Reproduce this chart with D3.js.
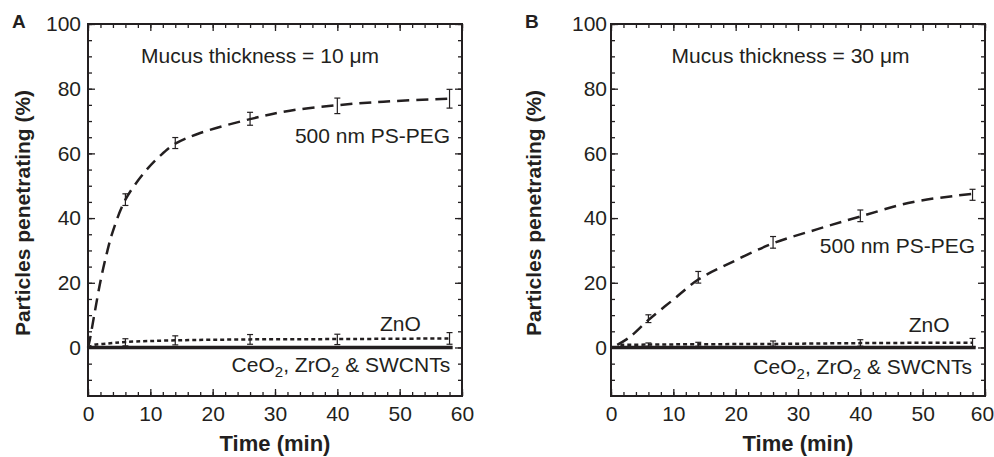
<!DOCTYPE html>
<html>
<head>
<meta charset="utf-8">
<script src="https://cdn.jsdelivr.net/npm/d3@7"></script>
<style>
  body { margin: 0; background: #fff; }
  svg { font-family: "Liberation Sans", Arial, sans-serif; }
</style>
</head>
<body>
<div id="chart"></div>
<script>
// sampling times (min)
var times = [6, 14, 26, 40, 58];

// panel A: mucus 10 um
var pegA = [45.7, 63.2, 70.7, 74.7, 76.9];
var pegErrA = [1.8, 1.7, 2.0, 2.4, 2.9];
var pegCurveA = [[0, 0], [0.3, 2.5], [1, 10], [2, 20.5], [3, 29], [4, 36], [6, 45.7], [9, 54],
  [11.6, 59.3], [14, 63.0], [18, 66.3], [26, 70.6], [32.4, 73.2], [40, 74.9], [47.4, 76], [58, 76.9]];
var znoA = [1.6, 2.2, 2.5, 2.5, 2.8];
var znoErrA = [1.1, 1.4, 1.5, 1.6, 1.8];
var znoCurveA = [[0, 0], [1, 0.8], [3, 1.2], [6, 1.7], [14, 2.2], [26, 2.5], [40, 2.6], [58, 2.8]];
var otherCurveA = [[0, 0], [58.5, 0]];

// panel B: mucus 30 um
var pegB = [8.9, 21.7, 32.5, 40.7, 47.2];
var pegErrB = [1.2, 1.8, 1.8, 1.8, 1.7];
var pegCurveB = [[1, 0.8], [3, 3.2], [6, 8.5], [10, 14.8], [14, 21], [19, 26], [26, 32.2],
  [33, 36.5], [40, 40.5], [48.5, 45], [58, 47.5]];
var znoB = [0.9, 1.0, 1.2, 1.4, 1.5];
var znoErrB = [0.5, 0.6, 0.8, 1.0, 1.3];
var znoCurveB = [[1.5, 0.8], [6, 0.9], [14, 1.0], [26, 1.1], [40, 1.35], [58, 1.5]];
var otherCurveB = [[0, 0], [58.5, 0]];

var xTicks = [0, 10, 20, 30, 40, 50, 60];
var yTicks = [0, 20, 40, 60, 80, 100];

var panels = [
  { letter: "A", left: 88, right: 462, gap: 7, letterX: 12, titleX: 30,
    peg: pegA, pegErr: pegErrA, pegCurve: pegCurveA,
    zno: znoA, znoErr: znoErrA, znoCurve: znoCurveA, other: otherCurveA,
    notes: [
      { t: 27.6, v: 88, anchor: "middle", text: "Mucus thickness = 10 \u03bcm" },
      { t: 58.1, v: 63.3, anchor: "end", text: "500 nm PS-PEG" },
      { t: 53.4, v: 5.0, anchor: "end", text: "ZnO" },
      { t: 58.1, v: -7.7, anchor: "end", text: "sub" }
    ] },
  { letter: "B", left: 611, right: 985, gap: 4, letterX: 525, titleX: 541,
    peg: pegB, pegErr: pegErrB, pegCurve: pegCurveB,
    zno: znoB, znoErr: znoErrB, znoCurve: znoCurveB, other: otherCurveB,
    notes: [
      { t: 28.8, v: 88, anchor: "middle", text: "Mucus thickness = 30 \u03bcm" },
      { t: 58.4, v: 29.3, anchor: "end", text: "500 nm PS-PEG" },
      { t: 54.3, v: 4.9, anchor: "end", text: "ZnO" },
      { t: 57.9, v: -8.3, anchor: "end", text: "sub" }
    ] }
];

var ink = "#231f20";
var plotTop = 24, plotBottom = 396;

var svg = d3.select("#chart").append("svg")
  .attr("width", 994)
  .attr("height", 457);

var y = d3.scaleLinear().domain([-15, 100]).range([plotBottom, plotTop]);

panels.forEach(function(p) {
  var x = d3.scaleLinear().domain([0, 60]).range([p.left, p.right]);
  var g = svg.append("g");

  // minor ticks all around
  var minorX = d3.range(0, 61, 2);
  var minorY = d3.range(-10, 101, 5);
  g.append("g")
    .attr("transform", "translate(0," + plotBottom + ")")
    .call(d3.axisBottom(x).tickValues(minorX).tickSize(-4).tickFormat(""));
  g.append("g")
    .attr("transform", "translate(0," + plotTop + ")")
    .call(d3.axisTop(x).tickValues(minorX).tickSize(-4).tickFormat(""));
  g.append("g")
    .attr("transform", "translate(" + p.left + ",0)")
    .call(d3.axisLeft(y).tickValues(minorY).tickSize(-4).tickFormat(""));
  g.append("g")
    .attr("transform", "translate(" + p.right + ",0)")
    .call(d3.axisRight(y).tickValues(minorY).tickSize(-4).tickFormat(""));

  // major ticks with labels
  var xa = g.append("g")
    .attr("class", "xaxis")
    .attr("transform", "translate(0," + plotBottom + ")")
    .call(d3.axisBottom(x).tickValues(xTicks).tickSizeInner(-7).tickSizeOuter(0).tickPadding(10));
  g.append("g")
    .attr("transform", "translate(0," + plotTop + ")")
    .call(d3.axisTop(x).tickValues(xTicks).tickSizeInner(-7).tickSizeOuter(0).tickFormat(""));
  g.append("g")
    .attr("class", "yaxis")
    .attr("transform", "translate(" + p.left + ",0)")
    .call(d3.axisLeft(y).tickValues(yTicks).tickSizeInner(-7).tickSizeOuter(0).tickPadding(p.gap));
  g.append("g")
    .attr("transform", "translate(" + p.right + ",0)")
    .call(d3.axisRight(y).tickValues(yTicks).tickSizeInner(-7).tickSizeOuter(0).tickFormat(""));

  g.selectAll(".domain").remove();
  g.selectAll(".tick line").attr("stroke", ink).attr("stroke-width", 1.3);
  g.selectAll(".tick text")
    .attr("fill", ink)
    .style("font-size", "21px")
    .style("font-family", "Liberation Sans, Arial, sans-serif");
  g.selectAll(".xaxis .tick text").attr("dy", "0.72em");
  // keep the last label of the right panel inside the page
  if (p.right > 900) {
    xa.selectAll(".tick text").filter(function(d) { return d === 60; }).attr("x", -3);
  }

  // frame
  g.append("rect")
    .attr("x", p.left).attr("y", plotTop)
    .attr("width", p.right - p.left).attr("height", plotBottom - plotTop)
    .attr("fill", "none")
    .attr("stroke", ink)
    .attr("stroke-width", 2);

  var line = d3.line()
    .x(function(d) { return x(d[0]); })
    .y(function(d) { return y(d[1]); })
    .curve(d3.curveCatmullRom.alpha(0.5));

  // CeO2, ZrO2 & SWCNTs: solid at zero
  g.append("path")
    .attr("d", line(p.other))
    .attr("fill", "none")
    .attr("stroke", ink)
    .attr("stroke-width", 3.5);

  // ZnO dotted
  g.append("path")
    .attr("d", line(p.znoCurve))
    .attr("fill", "none")
    .attr("stroke", ink)
    .attr("stroke-width", 2.5)
    .attr("stroke-dasharray", "4,3");

  // PS-PEG dashed
  g.append("path")
    .attr("d", line(p.pegCurve))
    .attr("fill", "none")
    .attr("stroke", ink)
    .attr("stroke-width", 2.5)
    .attr("stroke-dasharray", "12,7");

  // error bars
  function bars(vals, errs) {
    var eb = g.append("g").attr("stroke", ink).attr("stroke-width", 1.2).attr("fill", "none");
    times.forEach(function(t, i) {
      var cx = x(t), y0 = y(vals[i] - errs[i]), y1 = y(vals[i] + errs[i]);
      eb.append("line").attr("x1", cx).attr("x2", cx).attr("y1", y0).attr("y2", y1);
      eb.append("line").attr("x1", cx - 3).attr("x2", cx + 3).attr("y1", y0).attr("y2", y0);
      eb.append("line").attr("x1", cx - 3).attr("x2", cx + 3).attr("y1", y1).attr("y2", y1);
    });
  }
  bars(p.peg, p.pegErr);
  bars(p.zno, p.znoErr);

  // annotations
  p.notes.forEach(function(n) {
    var txt = g.append("text")
      .attr("x", x(n.t))
      .attr("y", y(n.v))
      .attr("text-anchor", n.anchor)
      .attr("fill", ink)
      .style("font-size", "21px");
    if (n.text === "sub") {
      txt.append("tspan").text("CeO");
      txt.append("tspan").attr("dy", 5).style("font-size", "15px").text("2");
      txt.append("tspan").attr("dy", -5).text(", ZrO");
      txt.append("tspan").attr("dy", 5).style("font-size", "15px").text("2");
      txt.append("tspan").attr("dy", -5).text(" & SWCNTs");
    } else {
      txt.text(n.text);
    }
  });

  // panel letter
  g.append("text")
    .attr("x", p.letterX).attr("y", 28)
    .attr("fill", ink)
    .style("font-size", "19px")
    .style("font-weight", "bold")
    .text(p.letter);

  // axis titles
  g.append("text")
    .attr("x", (p.left + p.right) / 2).attr("y", 451)
    .attr("text-anchor", "middle")
    .attr("fill", ink)
    .style("font-size", "22px")
    .style("font-weight", "bold")
    .text("Time (min)");

  g.append("text")
    .attr("transform", "translate(" + p.titleX + "," + 213 + ") rotate(-90)")
    .attr("text-anchor", "middle")
    .attr("fill", ink)
    .style("font-size", "21px")
    .style("font-weight", "bold")
    .text("Particles penetrating (%)");
});
</script>
</body>
</html>
